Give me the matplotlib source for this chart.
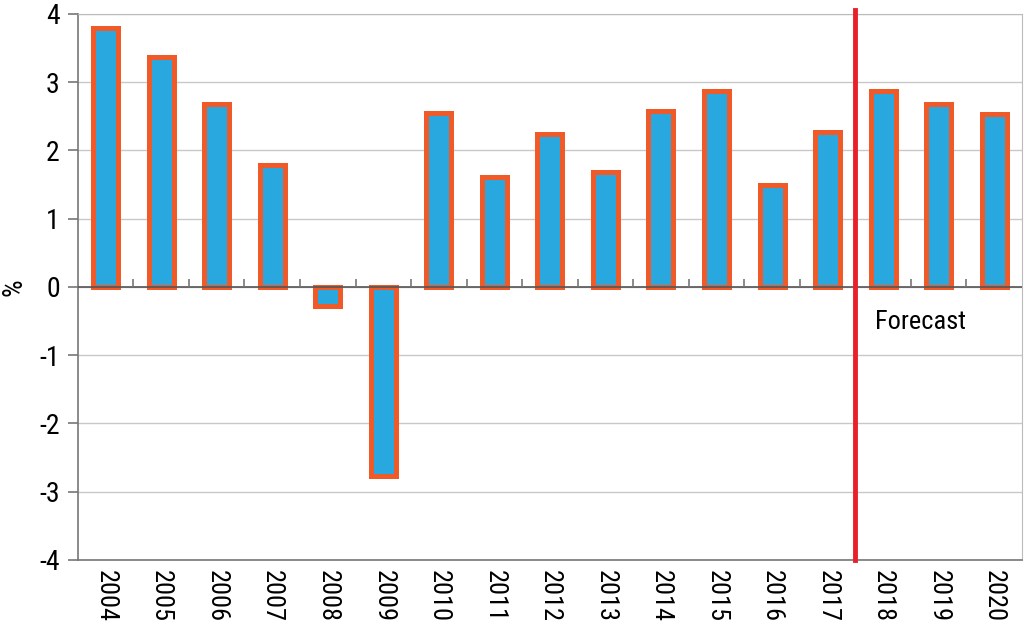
import matplotlib.pyplot as plt
from matplotlib import font_manager

years = [str(y) for y in range(2004, 2021)]
growth = [3.79, 3.36, 2.68, 1.79, -0.28, -2.77, 2.55, 1.61, 2.24, 1.68,
          2.58, 2.87, 1.49, 2.27, 2.87, 2.68, 2.53]
forecast_start = "2018"

names = {f.name for f in font_manager.fontManager.ttflist}
narrow = [n for n in ["Liberation Sans Narrow", "Roboto Condensed", "Open Sans Condensed"] if n in names]
plt.rcParams["font.family"] = narrow + ["DejaVu Sans"]
plt.rcParams["font.stretch"] = "condensed"
plt.rcParams["axes.unicode_minus"] = False

fig = plt.figure(figsize=(10.24, 6.25), dpi=100)
ax = fig.add_axes([0.076, 0.104, 0.922, 0.874])

x = list(range(len(years)))
ax.bar(x, growth, width=0.45, color="#29a8e0", edgecolor="#f05a28",
       linewidth=3.6, zorder=3)

ax.set_xlim(-0.5, len(years) - 0.5)
ax.set_ylim(-4, 4)
ax.set_yticks(range(-4, 5))
ax.yaxis.grid(True, color="#c8c8c8", linewidth=1, zorder=0)
ax.axhline(0, color="#555555", linewidth=1.2, zorder=4)

# small tick marks on the zero line between categories
ax.vlines([i + 0.5 for i in x[:-1]], 0, 0.12, color="#777777", linewidth=1.2, zorder=4)

ax.set_xticks(x)
ax.set_xticklabels(years, rotation=270, fontsize=19)
ax.tick_params(axis="x", length=0, pad=7)
ax.tick_params(axis="y", labelsize=20, length=7, color="#777777", width=1.2, pad=6)

# "%" label sits near the left edge of the figure
fig.text(0.014, 0.54, "%", fontsize=20, rotation=90, ha="center", va="center")

for side in ["top", "right"]:
    ax.spines[side].set_color("#bbbbbb")
for side in ["left", "bottom"]:
    ax.spines[side].set_color("#777777")
    ax.spines[side].set_linewidth(1.2)

fx = years.index(forecast_start) - 0.5
ax.plot([fx, fx], [-4, 4.06], color="#e8202a", linewidth=3.5, zorder=5, clip_on=False)
ax.text(fx + 0.35, -0.52, "Forecast", fontsize=19, va="center", ha="left")

fig.savefig("out.png", dpi=100)
